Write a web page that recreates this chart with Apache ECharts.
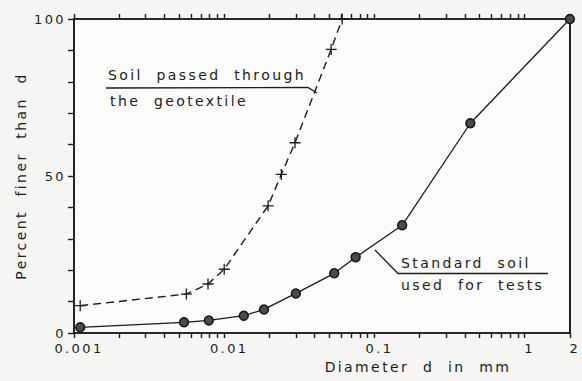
<!DOCTYPE html>
<html><head><meta charset="utf-8">
<script src="https://cdn.jsdelivr.net/npm/echarts@6/dist/echarts.min.js"></script>
<style>
html,body{margin:0;padding:0;background:#f5f5f4}
#c{width:582px;height:381px}
#c text{letter-spacing:2.4px}
</style>
</head><body><div id="c"></div><script>
// Soil passed through the geotextile (dashed, + markers)
const passedD   = [0.0011, 0.0056, 0.0078, 0.010, 0.0196, 0.024, 0.0296, 0.0515, 0.061];
const passedPct = [8.7, 12.4, 15.6, 20.3, 40.5, 50.5, 60.6, 90.3, 100];
// Standard soil used for tests (solid, filled circles)
const standardD   = [0.0011, 0.0054, 0.0079, 0.0135, 0.0184, 0.030, 0.054, 0.075, 0.153, 0.435, 2];
const standardPct = [1.8, 3.4, 4.0, 5.5, 7.5, 12.6, 19.0, 24.1, 34.3, 66.8, 100];
// axis ticks / labels
const xTickValues = [0.001,0.002,0.003,0.004,0.005,0.006,0.007,0.008,0.009,
                     0.01,0.02,0.03,0.04,0.05,0.06,0.07,0.08,0.09,
                     0.1,0.2,0.3,0.4,0.5,0.6,0.7,0.8,0.9,1,2];
const xLabelValues = [0.001, 0.01, 0.1, 1, 2];
const yLabelValues = [0, 50, 100];

const ink = '#1c1c1c';
const FONT = 'DejaVu Sans';
const pair = (xs, ys) => xs.map((x, i) => [x, ys[i]]);
const plusPath = 'path://M0.44,0 H0.56 V0.44 H1 V0.56 H0.56 V1 H0.44 V0.56 H0 V0.44 H0.44 Z';

const chart = echarts.init(document.getElementById('c'), null, {renderer: 'svg'});
chart.setOption({
  backgroundColor: '#f5f5f4',
  animation: false,
  grid: {left: 74, right: 3, top: 19, bottom: 48, show: true,
         backgroundColor: '#fbfbfa', borderColor: ink, borderWidth: 1.6},
  xAxis: [{
    type: 'log', logBase: 10, min: 0.001, max: 2, position: 'bottom',
    axisLine: {show: true, onZero: false, lineStyle: {color: ink, width: 1.6}},
    axisTick: {show: true, inside: false, length: 5, customValues: xTickValues,
               lineStyle: {color: ink, width: 1.4}},
    axisLabel: {margin: 9, color: ink, fontFamily: FONT, fontSize: 13,
                padding: [0, 0, 0, 10],
                formatter: v => (xLabelValues.indexOf(+v) >= 0 ? String(v) : '')},
    splitLine: {show: false},
    name: 'Diameter  d  in  mm', nameLocation: 'middle', nameGap: 21,
    nameTextStyle: {fontFamily: FONT, fontSize: 14, color: ink, padding: [0, 0, 0, 192]}
  }, {
    type: 'log', logBase: 10, min: 0.001, max: 2, position: 'top',
    axisLine: {show: true, onZero: false, lineStyle: {color: ink, width: 1.6}},
    axisTick: {show: true, inside: false, length: 5, customValues: xTickValues,
               lineStyle: {color: ink, width: 1.4}},
    axisLabel: {show: false}, splitLine: {show: false}
  }],
  yAxis: [{
    type: 'value', min: 0, max: 100, interval: 10, position: 'left',
    axisLine: {show: true, onZero: false, lineStyle: {color: ink, width: 1.6}},
    axisTick: {show: true, inside: false, length: 6, lineStyle: {color: ink, width: 1.4}},
    axisLabel: {margin: 8, color: ink, fontFamily: FONT, fontSize: 13,
                formatter: v => (yLabelValues.indexOf(v) >= 0 ? String(v) : '')},
    splitLine: {show: false},
    name: 'Percent  finer  than  d', nameLocation: 'middle', nameGap: 46, nameRotate: 90,
    nameTextStyle: {fontFamily: FONT, fontSize: 14, color: ink}
  }, {
    type: 'value', min: 0, max: 100, position: 'right',
    axisLine: {show: true, lineStyle: {color: ink, width: 1.6}},
    axisTick: {show: false}, axisLabel: {show: false}, splitLine: {show: false}
  }],
  series: [{
    name: 'Soil passed through the geotextile', type: 'line',
    data: pair(passedD, passedPct),
    symbol: plusPath, symbolSize: 11,
    itemStyle: {color: ink},
    lineStyle: {color: ink, width: 1.4, type: [8, 5]}
  }, {
    name: 'Standard soil used for tests', type: 'line',
    data: pair(standardD, standardPct),
    symbol: 'circle', symbolSize: 9,
    itemStyle: {color: '#4a4a4a', borderColor: '#111', borderWidth: 1.4},
    lineStyle: {color: ink, width: 1.3}
  }],
  graphic: [
    {type: 'text', style: {text: 'Soil  passed  through', x: 108, y: 75,
      font: '14px "DejaVu Sans"', fill: ink, verticalAlign: 'middle'}},
    {type: 'polyline', shape: {points: [[106, 88], [308, 87.5], [317, 93]]},
      style: {stroke: ink, lineWidth: 1.3, fill: null}},
    {type: 'text', style: {text: 'the  geotextile', x: 110, y: 101,
      font: '14px "DejaVu Sans"', fill: ink, verticalAlign: 'middle'}},
    {type: 'text', style: {text: 'Standard  soil', x: 401, y: 263,
      font: '14px "DejaVu Sans"', fill: ink, verticalAlign: 'middle'}},
    {type: 'polyline', shape: {points: [[375, 250], [398, 273.5], [548, 273.5]]},
      style: {stroke: ink, lineWidth: 1.3, fill: null}},
    {type: 'text', style: {text: 'used  for  tests', x: 401, y: 285,
      font: '14px "DejaVu Sans"', fill: ink, verticalAlign: 'middle'}}
  ]
});
</script></body></html>
